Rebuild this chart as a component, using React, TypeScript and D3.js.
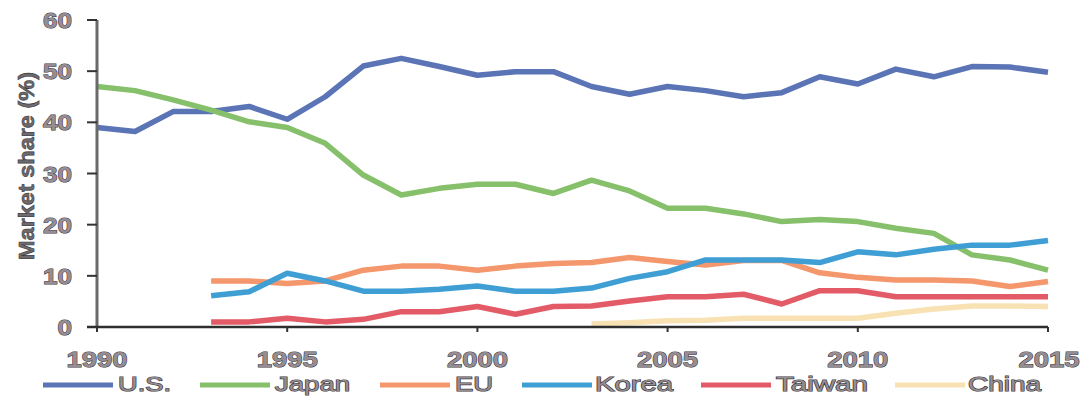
import React from "react";
import * as d3 from "d3";

// Market share (%) by region, 1990–2015
const years = d3.range(1990, 2016);
const yearsFrom1993 = d3.range(1993, 2016);
const yearsFrom2003 = d3.range(2003, 2016);

const usShare = [39.0, 38.2, 42.1, 42.1, 43.1, 40.6, 45.0, 51.0, 52.5, 50.9, 49.2, 49.9, 49.9, 47.0, 45.5, 47.0, 46.2, 45.0, 45.8, 48.9, 47.5, 50.4, 48.9, 50.9, 50.8, 49.8];
const japanShare = [47.0, 46.2, 44.4, 42.4, 40.1, 39.0, 35.9, 29.7, 25.8, 27.1, 27.9, 27.9, 26.1, 28.7, 26.6, 23.2, 23.2, 22.1, 20.6, 21.0, 20.6, 19.3, 18.3, 14.1, 13.1, 11.1];
const euShare = [9.0, 9.0, 8.5, 9.0, 11.1, 11.9, 11.9, 11.1, 11.9, 12.4, 12.6, 13.6, 12.8, 12.1, 13.0, 13.0, 10.6, 9.7, 9.2, 9.2, 9.0, 7.9, 8.9];
const koreaShare = [6.1, 6.9, 10.5, 9.0, 7.0, 7.0, 7.4, 8.0, 7.0, 7.0, 7.6, 9.5, 10.8, 13.1, 13.1, 13.1, 12.6, 14.7, 14.1, 15.2, 16.0, 16.0, 16.9];
const taiwanShare = [1.0, 1.0, 1.7, 1.0, 1.5, 3.0, 3.0, 4.0, 2.5, 4.0, 4.1, 5.1, 5.9, 5.9, 6.4, 4.5, 7.1, 7.1, 5.9, 5.9, 5.9, 5.9, 5.9];
const chinaShare = [0.6, 0.85, 1.2, 1.3, 1.7, 1.7, 1.7, 1.7, 2.7, 3.5, 4.1, 4.1, 4.0];

const seriesNames = ["U.S.", "Japan", "EU", "Korea", "Taiwan", "China"];
const seriesColors = ["#5a74b6", "#86c06a", "#f5976c", "#3f9fd4", "#e25b66", "#f8e2b4"];
const seriesYears = [years, years, yearsFrom1993, yearsFrom1993, yearsFrom1993, yearsFrom2003];
const seriesValues = [usShare, japanShare, euShare, koreaShare, taiwanShare, chinaShare];

const yTicks = [0, 10, 20, 30, 40, 50, 60];
const xTicks = [1990, 1995, 2000, 2005, 2010, 2015];

const W = 1083;
const H = 396;

// legend layout: start of swatch, start of label, label width
const legendSwatchX = [43, 200, 380, 522, 701, 895];
const legendTextX = [118, 275, 455, 595, 776, 968];
const legendTextW = [53, 75, 38, 78, 92, 73];

const labelFont = "'Liberation Sans', Arial, sans-serif";

export default function App() {
  const x = d3.scaleLinear().domain([1990, 2015]).range([97, 1048]);
  const y = d3.scaleLinear().domain([0, 60]).range([327, 20]);
  const line = d3
    .line<[number, number]>()
    .x((d) => x(d[0]))
    .y((d) => y(d[1]));

  const textStyle = {
    fontFamily: labelFont,
    fontWeight: 700 as const,
    fontSize: 22,
    fill: "#968c94",
    stroke: "#3c3a3c",
    strokeWidth: 1,
    paintOrder: "stroke" as const,
  };

  return (
    <svg
      width={W}
      height={H}
      style={{ position: "absolute", left: 0, top: 0, background: "#fff" }}
    >
      {/* series lines */}
      {seriesValues.map((vals, i) => (
        <path
          key={seriesNames[i]}
          d={line(vals.map((v, j) => [seriesYears[i][j], v]))!}
          fill="none"
          stroke={seriesColors[i]}
          strokeWidth={5.5}
          strokeLinejoin="round"
        />
      ))}

      {/* y axis */}
      <line x1={x(1990)} x2={x(1990)} y1={y(60)} y2={y(0)} stroke="#6a6a6a" strokeWidth={3} />
      {yTicks.map((t) => (
        <g key={t}>
          <line x1={x(1990) - 10} x2={x(1990)} y1={y(t)} y2={y(t)} stroke="#333" strokeWidth={2} />
          <text
            x={72}
            y={y(t) + 8}
            textAnchor="end"
            {...textStyle}
            textLength={String(t).length * 14.5}
            lengthAdjust="spacingAndGlyphs"
          >
            {t}
          </text>
        </g>
      ))}

      {/* x axis */}
      <line x1={x(1990) - 10} x2={x(2015)} y1={y(0)} y2={y(0)} stroke="#2e2e2e" strokeWidth={2.5} />
      {xTicks.map((t) => (
        <g key={t}>
          <line x1={x(t)} x2={x(t)} y1={y(0)} y2={y(0) + 5} stroke="#333" strokeWidth={2} />
          <text
            x={x(t) - (t === 2015 ? -1 : 0)}
            y={367}
            textAnchor="middle"
            {...textStyle}
            textLength={61}
            lengthAdjust="spacingAndGlyphs"
          >
            {t}
          </text>
        </g>
      ))}

      {/* y axis title */}
      <text
        transform={`translate(34,166) rotate(-90)`}
        textAnchor="middle"
        fontFamily={labelFont}
        fontWeight={700}
        fontSize={22}
        fill="#6e6a6e"
        stroke="#3c3a3c"
        strokeWidth={0.6}
        textLength={188}
        lengthAdjust="spacingAndGlyphs"
      >
        Market share (%)
      </text>

      {/* legend */}
      {seriesNames.map((name, i) => (
        <g key={name}>
          <line
            x1={legendSwatchX[i]}
            x2={legendSwatchX[i] + 70}
            y1={385}
            y2={385}
            stroke={seriesColors[i]}
            strokeWidth={5}
          />
          <text
            x={legendTextX[i]}
            y={391}
            {...textStyle}
            fontWeight={400}
            strokeWidth={1.2}
            fontSize={21}
            textLength={legendTextW[i]}
            lengthAdjust="spacingAndGlyphs"
          >
            {name}
          </text>
        </g>
      ))}
    </svg>
  );
}
